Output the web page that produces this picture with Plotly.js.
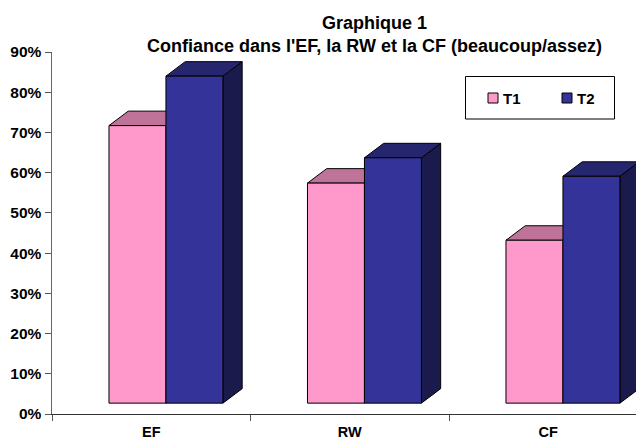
<!DOCTYPE html>
<html>
<head>
<meta charset="utf-8">
<script src="https://cdn.plot.ly/plotly-3.0.1.min.js"></script>
<style>
  html, body { margin: 0; padding: 0; background: #fff; }
  #chart { width: 636px; height: 439px; }
</style>
</head>
<body>
<div id="chart"></div>
<script>
// Data
const categories = ['EF', 'RW', 'CF'];
const seriesNames = ['T1', 'T2'];
const t1Values = [69, 54.7, 40.5];
const t2Values = [81.3, 61, 56.4];
const yTicks = [0, 10, 20, 30, 40, 50, 60, 70, 80, 90];

// 3D look: the front faces float above the axis, depth goes up and right
const baseOffset = 2.7;
const barWidth = 0.287;
const depthX = 0.097;
const depthY = 3.6;

const fontFamily = '"Liberation Sans", Arial, sans-serif';
const centers = categories.map((c, i) => i + 0.5);

function polygon(points, fill) {
    const path = points.map((p, i) => (i ? 'L' : 'M') + p[0] + ',' + p[1]).join(' ') + ' Z';
    return {
        type: 'path', path: path, xref: 'x', yref: 'y', layer: 'below',
        fillcolor: fill, line: { color: '#000', width: 1 }
    };
}

// Top and side faces sit under the bar traces
function depthFaces(values, offset, topColor, sideColor) {
    const faces = [];
    values.forEach((v, i) => {
        const x0 = centers[i] + offset;
        const x1 = x0 + barWidth;
        const y0 = baseOffset;
        const y1 = baseOffset + v;
        faces.push(polygon([[x1, y0], [x1 + depthX, y0 + depthY], [x1 + depthX, y1 + depthY], [x1, y1]], sideColor));
        faces.push(polygon([[x0, y1], [x0 + depthX, y1 + depthY], [x1 + depthX, y1 + depthY], [x1, y1]], topColor));
    });
    return faces;
}

const t1Offset = -barWidth + 0.074;
const t2Offset = 0.074;
const t1Color = '#FF99CC';
const t2Color = '#333399';

const traces = [
    {
        type: 'bar', name: seriesNames[0], x: centers, y: t1Values, base: baseOffset,
        width: barWidth, offset: t1Offset,
        marker: { color: t1Color, line: { color: '#000', width: 1 } }
    },
    {
        type: 'bar', name: seriesNames[1], x: centers, y: t2Values, base: baseOffset,
        width: barWidth, offset: t2Offset,
        marker: { color: t2Color, line: { color: '#000', width: 1 } }
    }
];

// Legend box drawn by hand to get the tight swatch/label spacing
function paperX(px) { return (px - 52) / 584; }
function paperY(py) { return (414 - py) / 362; }
function legendRect(x0, y0, x1, y1, fill) {
    return {
        type: 'rect', xref: 'paper', yref: 'paper', layer: 'above',
        x0: paperX(x0), x1: paperX(x1), y0: paperY(y0), y1: paperY(y1),
        fillcolor: fill, line: { color: '#000', width: 1 }
    };
}
function legendLabel(text, px) {
    return {
        text: text, xref: 'paper', yref: 'paper', x: paperX(px), y: paperY(98),
        xanchor: 'left', yanchor: 'middle', showarrow: false,
        font: { family: fontFamily, size: 15, weight: 'bold', color: '#000' }
    };
}

const layout = {
    width: 636,
    height: 439,
    margin: { l: 52, r: 0, t: 52, b: 25 },
    paper_bgcolor: '#fff',
    plot_bgcolor: '#fff',
    showlegend: false,
    barmode: 'overlay',
    font: { family: fontFamily, color: '#000' },
    title: {
        text: 'Graphique 1<br>Confiance dans l\'EF, la RW et la CF (beaucoup/assez)',
        font: { family: fontFamily, size: 18, weight: 'bold', color: '#000' },
        xref: 'paper', x: paperX(374.5), xanchor: 'center',
        yref: 'container', y: 0.935, yanchor: 'top'
    },
    xaxis: {
        range: [0, 584 / 198.5],
        tickmode: 'array',
        tickvals: centers,
        ticktext: categories,
        ticks: '',
        ticklabelstandoff: 5,
        showline: true, linecolor: '#333', linewidth: 1,
        showgrid: false, zeroline: false,
        tickfont: { family: fontFamily, size: 14.5, weight: 'bold', color: '#000' },
        minor: { tickmode: 'array', tickvals: [0, 1, 2], ticks: 'outside', ticklen: 6, tickcolor: '#555', tickwidth: 1, showgrid: false }
    },
    yaxis: {
        range: [0, 90],
        tickmode: 'array',
        tickvals: yTicks,
        ticktext: yTicks.map(v => v + '%'),
        ticks: 'outside', ticklen: 6, tickcolor: '#555', tickwidth: 1,
        showline: true, linecolor: '#666', linewidth: 1.5,
        showgrid: false, zeroline: false,
        tickfont: { family: fontFamily, size: 15.5, weight: 'bold', color: '#000' }
    },
    shapes: [
        ...depthFaces(t1Values, t1Offset, '#BF7399', '#BF7399'),
        ...depthFaces(t2Values, t2Offset, '#26266F', '#1A1A4D'),
        legendRect(465.5, 76.5, 614.5, 119, '#fff'),
        legendRect(488, 93, 498, 103, t1Color),
        legendRect(562, 93, 572, 103, t2Color)
    ],
    annotations: [
        legendLabel(seriesNames[0], 501),
        legendLabel(seriesNames[1], 575)
    ]
};

Plotly.newPlot('chart', traces, layout, { displayModeBar: false, staticPlot: true });
</script>
</body>
</html>
